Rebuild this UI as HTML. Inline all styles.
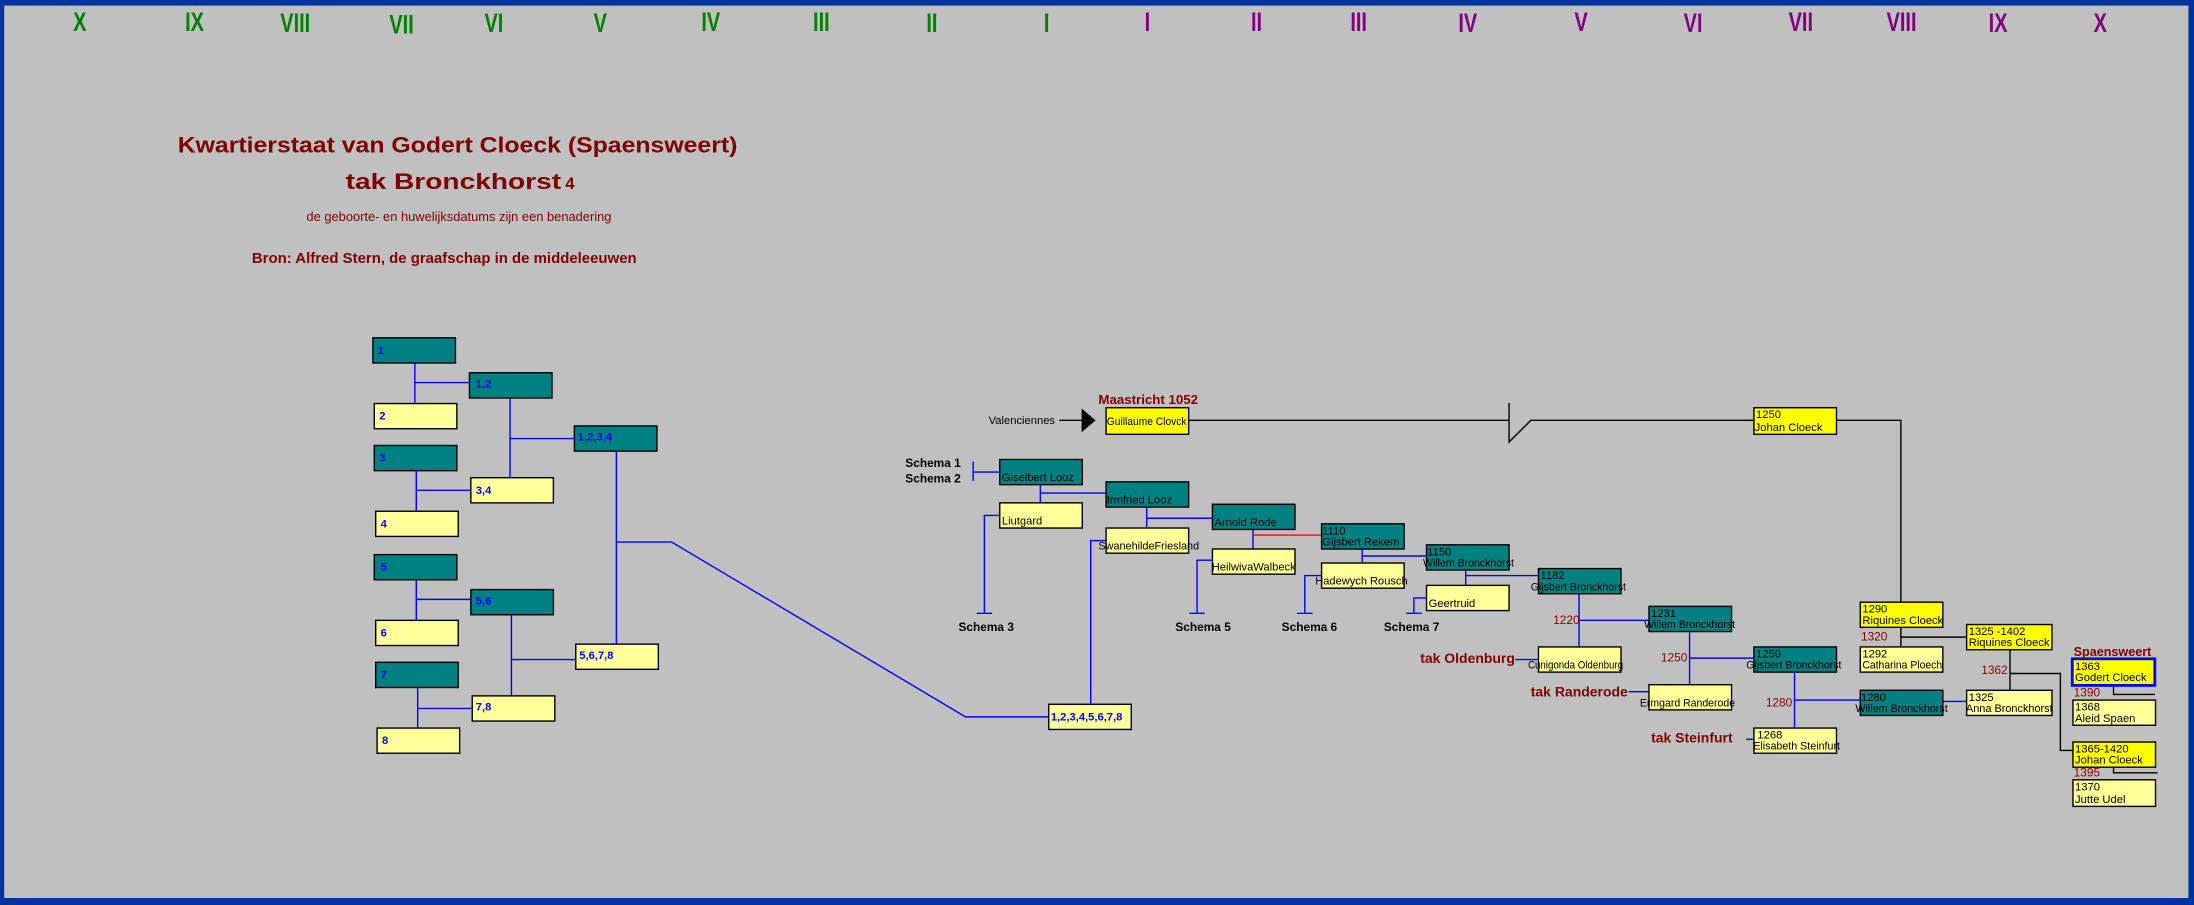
<!DOCTYPE html>
<html><head><meta charset="utf-8">
<style>
html,body{margin:0;padding:0;background:#c0c0c0;overflow:hidden}
svg{display:block}
text{font-family:"Liberation Sans",Arial,sans-serif}
.t{font-size:8px;fill:#000}
.lb{font-size:8px;fill:#0000ff;font-weight:bold}
.g{font-size:19px;font-weight:bold;fill:#008000}
.p{font-size:19px;font-weight:bold;fill:#800080}
.dr{fill:#800000}
.sc{font-size:8.5px;font-weight:bold;fill:#000}
.yr{font-size:8.5px;fill:#8b0000}
.tak{font-size:10px;font-weight:bold;fill:#800000}
</style></head>
<body>
<svg width="2194" height="905" viewBox="0 0 1568 647" preserveAspectRatio="none" xmlns="http://www.w3.org/2000/svg">
<rect x="0" y="0" width="1568" height="647" fill="#c0c0c0"/>
<!-- frame -->
<rect x="0" y="0" width="1568" height="4" fill="#0033a0"/>
<rect x="0" y="0" width="3" height="647" fill="#0033a0"/>
<rect x="1564" y="0" width="4" height="647" fill="#0033a0"/>
<rect x="0" y="642" width="1568" height="5" fill="#0033a0"/>

<!-- roman numerals -->
<g text-anchor="middle">
<text class="g" x="57" y="22" transform="translate(57 0) scale(.75 1) translate(-57 0)">X</text>
<text class="g" x="139" y="22" transform="translate(139 0) scale(.75 1) translate(-139 0)">IX</text>
<text class="g" x="211" y="23" transform="translate(211 0) scale(.75 1) translate(-211 0)">VIII</text>
<text class="g" x="287" y="24" transform="translate(287 0) scale(.75 1) translate(-287 0)">VII</text>
<text class="g" x="353" y="23" transform="translate(353 0) scale(.75 1) translate(-353 0)">VI</text>
<text class="g" x="429" y="23" transform="translate(429 0) scale(.75 1) translate(-429 0)">V</text>
<text class="g" x="508" y="22" transform="translate(508 0) scale(.75 1) translate(-508 0)">IV</text>
<text class="g" x="587" y="22" transform="translate(587 0) scale(.75 1) translate(-587 0)">III</text>
<text class="g" x="666" y="23" transform="translate(666 0) scale(.75 1) translate(-666 0)">II</text>
<text class="g" x="748" y="23" transform="translate(748 0) scale(.75 1) translate(-748 0)">I</text>
<text class="p" x="820" y="22" transform="translate(820 0) scale(.75 1) translate(-820 0)">I</text>
<text class="p" x="898" y="22" transform="translate(898 0) scale(.75 1) translate(-898 0)">II</text>
<text class="p" x="971" y="22" transform="translate(971 0) scale(.75 1) translate(-971 0)">III</text>
<text class="p" x="1049" y="23" transform="translate(1049 0) scale(.75 1) translate(-1049 0)">IV</text>
<text class="p" x="1130" y="22" transform="translate(1130 0) scale(.75 1) translate(-1130 0)">V</text>
<text class="p" x="1210" y="23" transform="translate(1210 0) scale(.75 1) translate(-1210 0)">VI</text>
<text class="p" x="1287" y="22" transform="translate(1287 0) scale(.75 1) translate(-1287 0)">VII</text>
<text class="p" x="1359" y="22" transform="translate(1359 0) scale(.75 1) translate(-1359 0)">VIII</text>
<text class="p" x="1428" y="23" transform="translate(1428 0) scale(.75 1) translate(-1428 0)">IX</text>
<text class="p" x="1501" y="23" transform="translate(1501 0) scale(.75 1) translate(-1501 0)">X</text>
</g>

<!-- titles -->
<text class="dr" x="127" y="109" font-size="16" font-weight="bold" textLength="400" lengthAdjust="spacingAndGlyphs">Kwartierstaat van Godert Cloeck (Spaensweert)</text>
<text class="dr" x="247" y="135" font-size="16" font-weight="bold" textLength="154" lengthAdjust="spacingAndGlyphs">tak Bronckhorst</text>
<text class="dr" x="404" y="135" font-size="12" font-weight="bold">4</text>
<text class="dr" x="219" y="158" font-size="9" textLength="218" lengthAdjust="spacingAndGlyphs">de geboorte- en huwelijksdatums zijn een benadering</text>
<text class="dr" x="180" y="188" font-size="10.5" font-weight="bold" textLength="275" lengthAdjust="spacingAndGlyphs">Bron: Alfred Stern, de graafschap in de middeleeuwen</text>

<!-- left tree lines -->
<g stroke="#0000ff" stroke-width="1" fill="none">
<path d="M296.5 258V288M296.5 273.5H335"/>
<path d="M297.5 335V365M297.5 350.5H336"/>
<path d="M297.5 413V443M297.5 428.5H336"/>
<path d="M298.5 491V520M298.5 506.5H337"/>
<path d="M364.5 284V341M364.5 313.5H410"/>
<path d="M365.5 439V497M365.5 471.5H411"/>
<path d="M440.5 322V460M440.5 387.5H480L690 512.5H749"/>
<path d="M779.5 503V386.5H790"/>
</g>
<!-- left tree boxes -->
<g stroke="#000" stroke-width="1">
<rect x="266.5" y="241.5" width="59" height="18" fill="#008080"/>
<rect x="267.5" y="288.5" width="59" height="18" fill="#ffff99"/>
<rect x="267.5" y="318.5" width="59" height="18" fill="#008080"/>
<rect x="268.5" y="365.5" width="59" height="18" fill="#ffff99"/>
<rect x="267.5" y="396.5" width="59" height="18" fill="#008080"/>
<rect x="268.5" y="443.5" width="59" height="18" fill="#ffff99"/>
<rect x="268.5" y="473.5" width="59" height="18" fill="#008080"/>
<rect x="269.5" y="520.5" width="59" height="18" fill="#ffff99"/>
<rect x="335.5" y="266.5" width="59" height="18" fill="#008080"/>
<rect x="336.5" y="341.5" width="59" height="18" fill="#ffff99"/>
<rect x="336.5" y="421.5" width="59" height="18" fill="#008080"/>
<rect x="337.5" y="497.5" width="59" height="18" fill="#ffff99"/>
<rect x="410.5" y="304.5" width="59" height="18" fill="#008080"/>
<rect x="411.5" y="460.5" width="59" height="18" fill="#ffff99"/>
<rect x="749.5" y="503.5" width="59" height="18" fill="#ffff99"/>
</g>
<g class="lb">
<text class="lb" x="270" y="253">1</text>
<text class="lb" x="271" y="300">2</text>
<text class="lb" x="271" y="330">3</text>
<text class="lb" x="272" y="377">4</text>
<text class="lb" x="272" y="408">5</text>
<text class="lb" x="272" y="455">6</text>
<text class="lb" x="272" y="485">7</text>
<text class="lb" x="273" y="532">8</text>
<text class="lb" x="340" y="277">1,2</text>
<text class="lb" x="340" y="353">3,4</text>
<text class="lb" x="340" y="432">5,6</text>
<text class="lb" x="340" y="508">7,8</text>
<text class="lb" x="413" y="315">1,2,3,4</text>
<text class="lb" x="414" y="471">5,6,7,8</text>
<text class="lb" x="751" y="515">1,2,3,4,5,6,7,8</text>
</g>

<!-- top line -->
<text class="t" x="754" y="303" text-anchor="end">Valenciennes</text>
<g stroke="#000" fill="none">
<path d="M757 300.5H775"/>
<path d="M849 300.5H1078.5M1078.5 288V316L1094 300.5H1253M1312 300.5H1358.5V430"/>
<path d="M1358.5 448V462M1358.5 455.5H1405"/>
<path d="M1436.5 464V493M1436.5 481.5H1472.5V536.5H1481"/>
<path d="M1510.5 490V496.5H1540M1510.5 548V552.5H1542"/>
</g>
<polygon points="773,292 783,300.5 773,309" fill="#000"/>
<text x="785" y="289" font-size="9.5" font-weight="bold" class="dr">Maastricht 1052</text>

<!-- center tree lines -->
<g stroke="#0000ff" fill="none">
<path d="M695.5 330V344M695.5 337.5H714"/>
<path d="M743.5 346V359M743.5 352.5H790"/>
<path d="M714 368.5H703.5V438.5M698 438.5H709"/>
<path d="M819.5 362V377M819.5 370.5H866"/>
<path d="M895.5 378V392"/>
<path d="M866 400.5H855.5V438.5M850 438.5H861"/>
<path d="M973.5 392V402M973.5 397.5H1019"/>
<path d="M944 411.5H932.5V438.5M927 438.5H938"/>
<path d="M1047.5 407V418M1047.5 411.5H1099"/>
<path d="M1019 427.5H1010.5V438.5M1005 438.5H1016"/>
<path d="M1128.5 424V462M1128.5 443.5H1178"/>
<path d="M1083 471.5H1099"/>
<path d="M1207.5 451V489M1207.5 470.5H1253"/>
<path d="M1164 494.5H1178"/>
<path d="M1282.5 480V520M1282.5 500.5H1329"/>
<path d="M1248 528.5H1253"/>
<path d="M1388 501.5H1405"/>
</g>
<path d="M895 382.5H944" stroke="#ff0000"/>

<!-- center boxes -->
<g stroke="#000" stroke-width="1">
<rect x="790.5" y="291.5" width="59" height="19" fill="#ffff00"/>
<rect x="714.5" y="328.5" width="59" height="18" fill="#008080"/>
<rect x="714.5" y="359.5" width="59" height="18" fill="#ffff99"/>
<rect x="790.5" y="344.5" width="59" height="18" fill="#008080"/>
<rect x="790.5" y="377.5" width="59" height="18" fill="#ffff99"/>
<rect x="866.5" y="360.5" width="59" height="18" fill="#008080"/>
<rect x="866.5" y="392.5" width="59" height="18" fill="#ffff99"/>
<rect x="944.5" y="374.5" width="59" height="18" fill="#008080"/>
<rect x="944.5" y="402.5" width="59" height="18" fill="#ffff99"/>
<rect x="1019.5" y="389.5" width="59" height="18" fill="#008080"/>
<rect x="1019.5" y="418.5" width="59" height="18" fill="#ffff99"/>
<rect x="1099.5" y="406.5" width="59" height="18" fill="#008080"/>
<rect x="1099.5" y="462.5" width="59" height="18" fill="#ffff99"/>
<rect x="1178.5" y="433.5" width="59" height="18" fill="#008080"/>
<rect x="1178.5" y="489.5" width="59" height="18" fill="#ffff99"/>
<rect x="1253.5" y="291.5" width="59" height="19" fill="#ffff00"/>
<rect x="1253.5" y="462.5" width="59" height="18" fill="#008080"/>
<rect x="1253.5" y="520.5" width="59" height="18" fill="#ffff99"/>
<rect x="1329.5" y="493.5" width="59" height="18" fill="#008080"/>
<rect x="1405.5" y="493.5" width="61" height="18" fill="#ffff99"/>
<rect x="1329.5" y="430.5" width="59" height="18" fill="#ffff00"/>
<rect x="1329.5" y="462.5" width="59" height="18" fill="#ffff99"/>
<rect x="1405.5" y="446.5" width="61" height="18" fill="#ffff00"/>
<rect x="1481.5" y="500.5" width="59" height="18" fill="#ffff99"/>
<rect x="1481.5" y="530.5" width="59" height="18" fill="#ffff00"/>
<rect x="1481.5" y="557.5" width="59" height="19" fill="#ffff99"/>
</g>
<rect x="1481" y="471" width="59" height="19" fill="#ffff00" stroke="#0000ff" stroke-width="2"/>

<!-- box texts -->
<g class="t">
<text class="t" x="791" y="304" textLength="57" lengthAdjust="spacingAndGlyphs">Guillaume Clovck</text>
<text class="t" x="716" y="344">Giselbert Looz</text>
<text class="t" x="716" y="375">Liutgard</text>
<text class="t" x="791" y="360">Irmfried Looz</text>
<text class="t" x="785" y="393" textLength="72" lengthAdjust="spacingAndGlyphs">SwanehildeFriesland</text>
<text class="t" x="868" y="376">Arnold Rode</text>
<text class="t" x="866" y="408" textLength="60" lengthAdjust="spacingAndGlyphs">HeilwivaWalbeck</text>
<text class="t" x="945" y="382">1110</text>
<text class="t" x="945" y="390">Gijsbert Rekem</text>
<text class="t" x="940" y="418" textLength="66" lengthAdjust="spacingAndGlyphs">Hadewych Rousch</text>
<text class="t" x="1020" y="397">1150</text>
<text class="t" x="1017" y="405" textLength="65" lengthAdjust="spacingAndGlyphs">Willem Bronckhorst</text>
<text class="t" x="1021" y="434">Geertruid</text>
<text class="t" x="1101" y="414">1182</text>
<text class="t" x="1094" y="422" textLength="68" lengthAdjust="spacingAndGlyphs">Gijsbert Bronckhorst</text>
<text class="t" x="1092" y="478" textLength="68" lengthAdjust="spacingAndGlyphs">Cunigonda Oldenburg</text>
<text class="t" x="1180" y="441">1231</text>
<text class="t" x="1175" y="449" textLength="65" lengthAdjust="spacingAndGlyphs">Willem Bronckhorst</text>
<text class="t" x="1172" y="505" textLength="68" lengthAdjust="spacingAndGlyphs">Ermgard Randerode</text>
<text class="t" x="1255" y="299">1250</text>
<text class="t" x="1254" y="308">Johan Cloeck</text>
<text class="t" x="1255" y="470">1250</text>
<text class="t" x="1248" y="478" textLength="68" lengthAdjust="spacingAndGlyphs">Gijsbert Bronckhorst</text>
<text class="t" x="1256" y="528">1268</text>
<text class="t" x="1253" y="536" textLength="62" lengthAdjust="spacingAndGlyphs">Elisabeth Steinfurt</text>
<text class="t" x="1330" y="501">1280</text>
<text class="t" x="1326" y="509" textLength="66" lengthAdjust="spacingAndGlyphs">Willem Bronckhorst</text>
<text class="t" x="1407" y="501">1325</text>
<text class="t" x="1405" y="509" textLength="62" lengthAdjust="spacingAndGlyphs">Anna Bronckhorst</text>
<text class="t" x="1331" y="438">1290</text>
<text class="t" x="1331" y="446">Riquines Cloeck</text>
<text class="t" x="1331" y="470">1292</text>
<text class="t" x="1331" y="478" textLength="57" lengthAdjust="spacingAndGlyphs">Catharina Ploech</text>
<text class="t" x="1407" y="454">1325 -1402</text>
<text class="t" x="1407" y="462">Riquines Cloeck</text>
<text class="t" x="1483" y="479">1363</text>
<text class="t" x="1483" y="487">Godert Cloeck</text>
<text class="t" x="1483" y="508">1368</text>
<text class="t" x="1483" y="516">Aleid Spaen</text>
<text class="t" x="1483" y="538">1365-1420</text>
<text class="t" x="1483" y="546">Johan Cloeck</text>
<text class="t" x="1483" y="565">1370</text>
<text class="t" x="1483" y="574">Jutte Udel</text>
</g>

<!-- schema labels -->
<text class="sc" x="647" y="334">Schema  1</text>
<text class="sc" x="647" y="345">Schema  2</text>
<text class="sc" x="685" y="451">Schema 3</text>
<text class="sc" x="840" y="451">Schema  5</text>
<text class="sc" x="916" y="451">Schema 6</text>
<text class="sc" x="989" y="451">Schema  7</text>

<!-- years -->
<text class="yr" x="1110" y="446">1220</text>
<text class="yr" x="1187" y="473">1250</text>
<text class="yr" x="1262" y="505">1280</text>
<text class="yr" x="1330" y="458">1320</text>
<text class="yr" x="1416" y="482">1362</text>
<text class="yr" x="1482" y="498">1390</text>
<text class="yr" x="1482" y="555">1395</text>

<!-- tak labels -->
<text class="tak" x="1015" y="474">tak Oldenburg</text>
<text class="tak" x="1094" y="498">tak Randerode</text>
<text class="tak" x="1180" y="531">tak Steinfurt</text>
<text x="1482" y="469" font-size="9" font-weight="bold" class="dr">Spaensweert</text>
</svg>
</body></html>
